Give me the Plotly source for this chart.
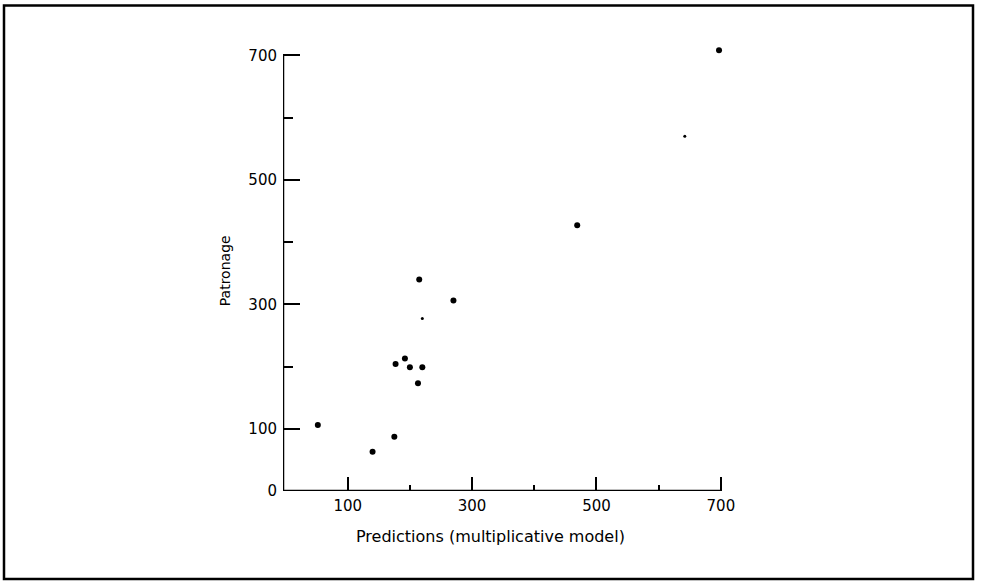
import plotly.graph_objects as go

# Data (Predictions vs Patronage)
predictions = [52, 140, 175, 177, 192, 200, 220, 213, 215, 270, 469, 697]
patronage = [106, 63, 87, 204, 213, 199, 199, 173, 340, 306, 427, 708]

# faint small dots inside the plot
faint_pred = [220, 642]
faint_patr = [277, 570]

x_tick_vals = [100, 300, 500, 700]
x_tick_text = ["100", "300", "500", "700"]
x_minor_vals = [200, 400, 600]
y_tick_vals = [0, 100, 300, 500, 700]
y_tick_text = ["0", "100", "300", "500", "700"]
y_minor_vals = [200, 400, 600]

FONT = "'DejaVu Sans', sans-serif"

X_MIN, X_MAX = -4, 705
Y_MIN, Y_MAX = 0, 715
PX = 0.622  # px per unit (x)
PY = 0.623  # px per unit (y)

left = 283
right = left + (X_MAX - X_MIN) * PX
bottom = 491
top = bottom - (Y_MAX - Y_MIN) * PY

fig = go.Figure()
fig.add_trace(go.Scatter(
    x=predictions, y=patronage, mode="markers",
    marker=dict(color="black", size=6), showlegend=False,
))
fig.add_trace(go.Scatter(
    x=faint_pred, y=faint_patr, mode="markers",
    marker=dict(color="black", size=3), showlegend=False,
))

pw = right - left
ph = bottom - top


def px_x(p):
    return (p - left) / pw


def px_y(p):
    return (bottom - p) / ph


fig.update_layout(
    width=981, height=581,
    paper_bgcolor="white", plot_bgcolor="white",
    margin=dict(l=left, r=981 - right, t=top, b=581 - bottom),
    font=dict(family=FONT, color="black", size=15),
    xaxis=dict(
        range=[X_MIN, X_MAX], showgrid=False, zeroline=False, showline=False,
        ticks="inside", ticklen=14, tickwidth=2, tickcolor="black",
        tickvals=x_tick_vals, ticktext=x_tick_text,
        tickfont=dict(size=15, family=FONT), ticklabelstandoff=4,
        minor=dict(tickvals=x_minor_vals, ticks="inside", ticklen=6,
                   tickwidth=1.5, tickcolor="black"),
        fixedrange=True,
    ),
    yaxis=dict(
        range=[Y_MIN, Y_MAX], showgrid=False, zeroline=False, showline=False,
        ticks="inside", ticklen=17, tickwidth=2, tickcolor="black",
        tickvals=y_tick_vals, ticktext=y_tick_text,
        tickfont=dict(size=15, family=FONT), ticklabelstandoff=5,
        minor=dict(tickvals=y_minor_vals, ticks="inside", ticklen=10,
                   tickwidth=2, tickcolor="black"),
        fixedrange=True,
    ),
    shapes=[
        dict(type="rect", xref="paper", yref="paper",
             x0=px_x(4), x1=px_x(973), y0=px_y(579), y1=px_y(5),
             line=dict(color="black", width=2.5), layer="below"),
        # axis lines (end at the 700 ticks)
        dict(type="line", xref="x", yref="y", x0=X_MIN, x1=700, y0=0, y1=0,
             line=dict(color="black", width=2.5)),
        dict(type="line", xref="x", yref="y", x0=X_MIN, x1=X_MIN, y0=0, y1=700,
             line=dict(color="black", width=2.5)),
    ],
    annotations=[
        dict(text="Patronage", xref="paper", yref="paper",
             x=px_x(225), y=px_y(270), textangle=-90,
             showarrow=False, font=dict(size=14, family=FONT),
             xanchor="center", yanchor="middle"),
        dict(text="Predictions (multiplicative model)", xref="paper", yref="paper",
             x=px_x(490), y=px_y(537),
             showarrow=False, font=dict(size=16, family=FONT),
             xanchor="center", yanchor="middle"),
    ],
)

fig.write_html("out.html", config={"displayModeBar": False},
               post_script="document.body.style.margin='0';")
